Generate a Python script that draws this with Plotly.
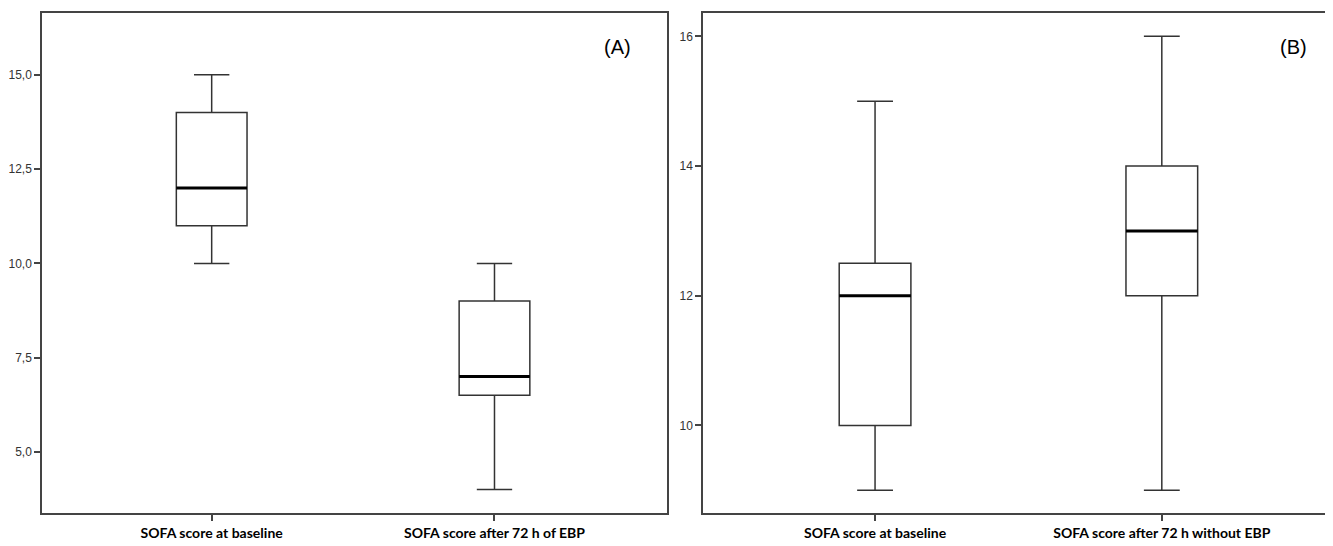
import plotly.graph_objects as go

# Panel A data
cats_a = ["SOFA score at baseline", "SOFA score after 72 h of EBP"]
lower_a = [10, 4]
q1_a = [11, 6.5]
median_a = [12, 7]
q3_a = [14, 9]
upper_a = [15, 10]
yticks_a = [5.0, 7.5, 10.0, 12.5, 15.0]

# Panel B data
cats_b = ["SOFA score at baseline", "SOFA score after 72 h without EBP"]
lower_b = [9, 9]
q1_b = [10, 12]
median_b = [12, 13]
q3_b = [12.5, 14]
upper_b = [15, 16]
yticks_b = [10, 12, 14, 16]

BOXW = 0.25
LINE = "#333333"

fig = go.Figure()


def add_panel(cats, lo, q1, med, q3, up, xa, ya):
    pos = list(range(len(cats)))
    fig.add_trace(go.Box(
        x=pos, lowerfence=lo, q1=q1, median=med, q3=q3, upperfence=up,
        width=BOXW, whiskerwidth=0.5, fillcolor="white",
        line=dict(color=LINE, width=1.5), xaxis=xa, yaxis=ya,
        showlegend=False, hoverinfo="skip"))
    for p, m in zip(pos, med):
        fig.add_trace(go.Scatter(
            x=[p - BOXW / 2, p + BOXW / 2], y=[m, m], mode="lines",
            line=dict(color="black", width=3), xaxis=xa, yaxis=ya,
            showlegend=False, hoverinfo="skip"))


add_panel(cats_a, lower_a, q1_a, median_a, q3_a, upper_a, "x", "y")
add_panel(cats_b, lower_b, q1_b, median_b, q3_b, upper_b, "x2", "y2")

W, H = 1333, 546
axis_common = dict(showline=True, linecolor="#444444", linewidth=1.5, mirror=True,
                   ticks="outside", ticklen=6, tickcolor="#444444", tickwidth=1.5,
                   showgrid=False, zeroline=False)
xfont = dict(family="Lato", size=14, color="black", weight="bold")
yfont = dict(family="Arial, Liberation Sans", size=12, color="#333333")

fig.update_layout(
    width=W, height=H,
    margin=dict(l=0, r=0, t=5, b=41),
    paper_bgcolor="white", plot_bgcolor="white",
    separators=",.",
    xaxis=dict(domain=[34 / W, 659 / W], range=[-0.6, 1.61],
               tickvals=[0, 1], ticktext=cats_a, anchor="y",
               tickfont=xfont, **axis_common),
    yaxis=dict(domain=[0, 1], range=[3.38, 16.64], tickvals=yticks_a,
               tickformat=".1f", anchor="x", tickfont=yfont, **axis_common),
    xaxis2=dict(domain=[695 / W, 1323 / W], range=[-0.6, 1.59],
                tickvals=[0, 1], ticktext=cats_b, anchor="y2",
                tickfont=xfont, **axis_common),
    yaxis2=dict(domain=[0, 1], range=[8.65, 16.36], tickvals=yticks_b,
                tickformat="d", anchor="x2", tickfont=yfont, **axis_common),
    annotations=[
        dict(text="(A)", x=0.92, y=0.932, xref="x domain", yref="y domain",
             xanchor="center", yanchor="middle", showarrow=False,
             font=dict(family="Arial, Liberation Sans", size=20, color="black")),
        dict(text="(B)", x=0.94, y=0.932, xref="x2 domain", yref="y2 domain",
             xanchor="center", yanchor="middle", showarrow=False,
             font=dict(family="Arial, Liberation Sans", size=20, color="black")),
    ],
)

fig.write_html("out.html")
